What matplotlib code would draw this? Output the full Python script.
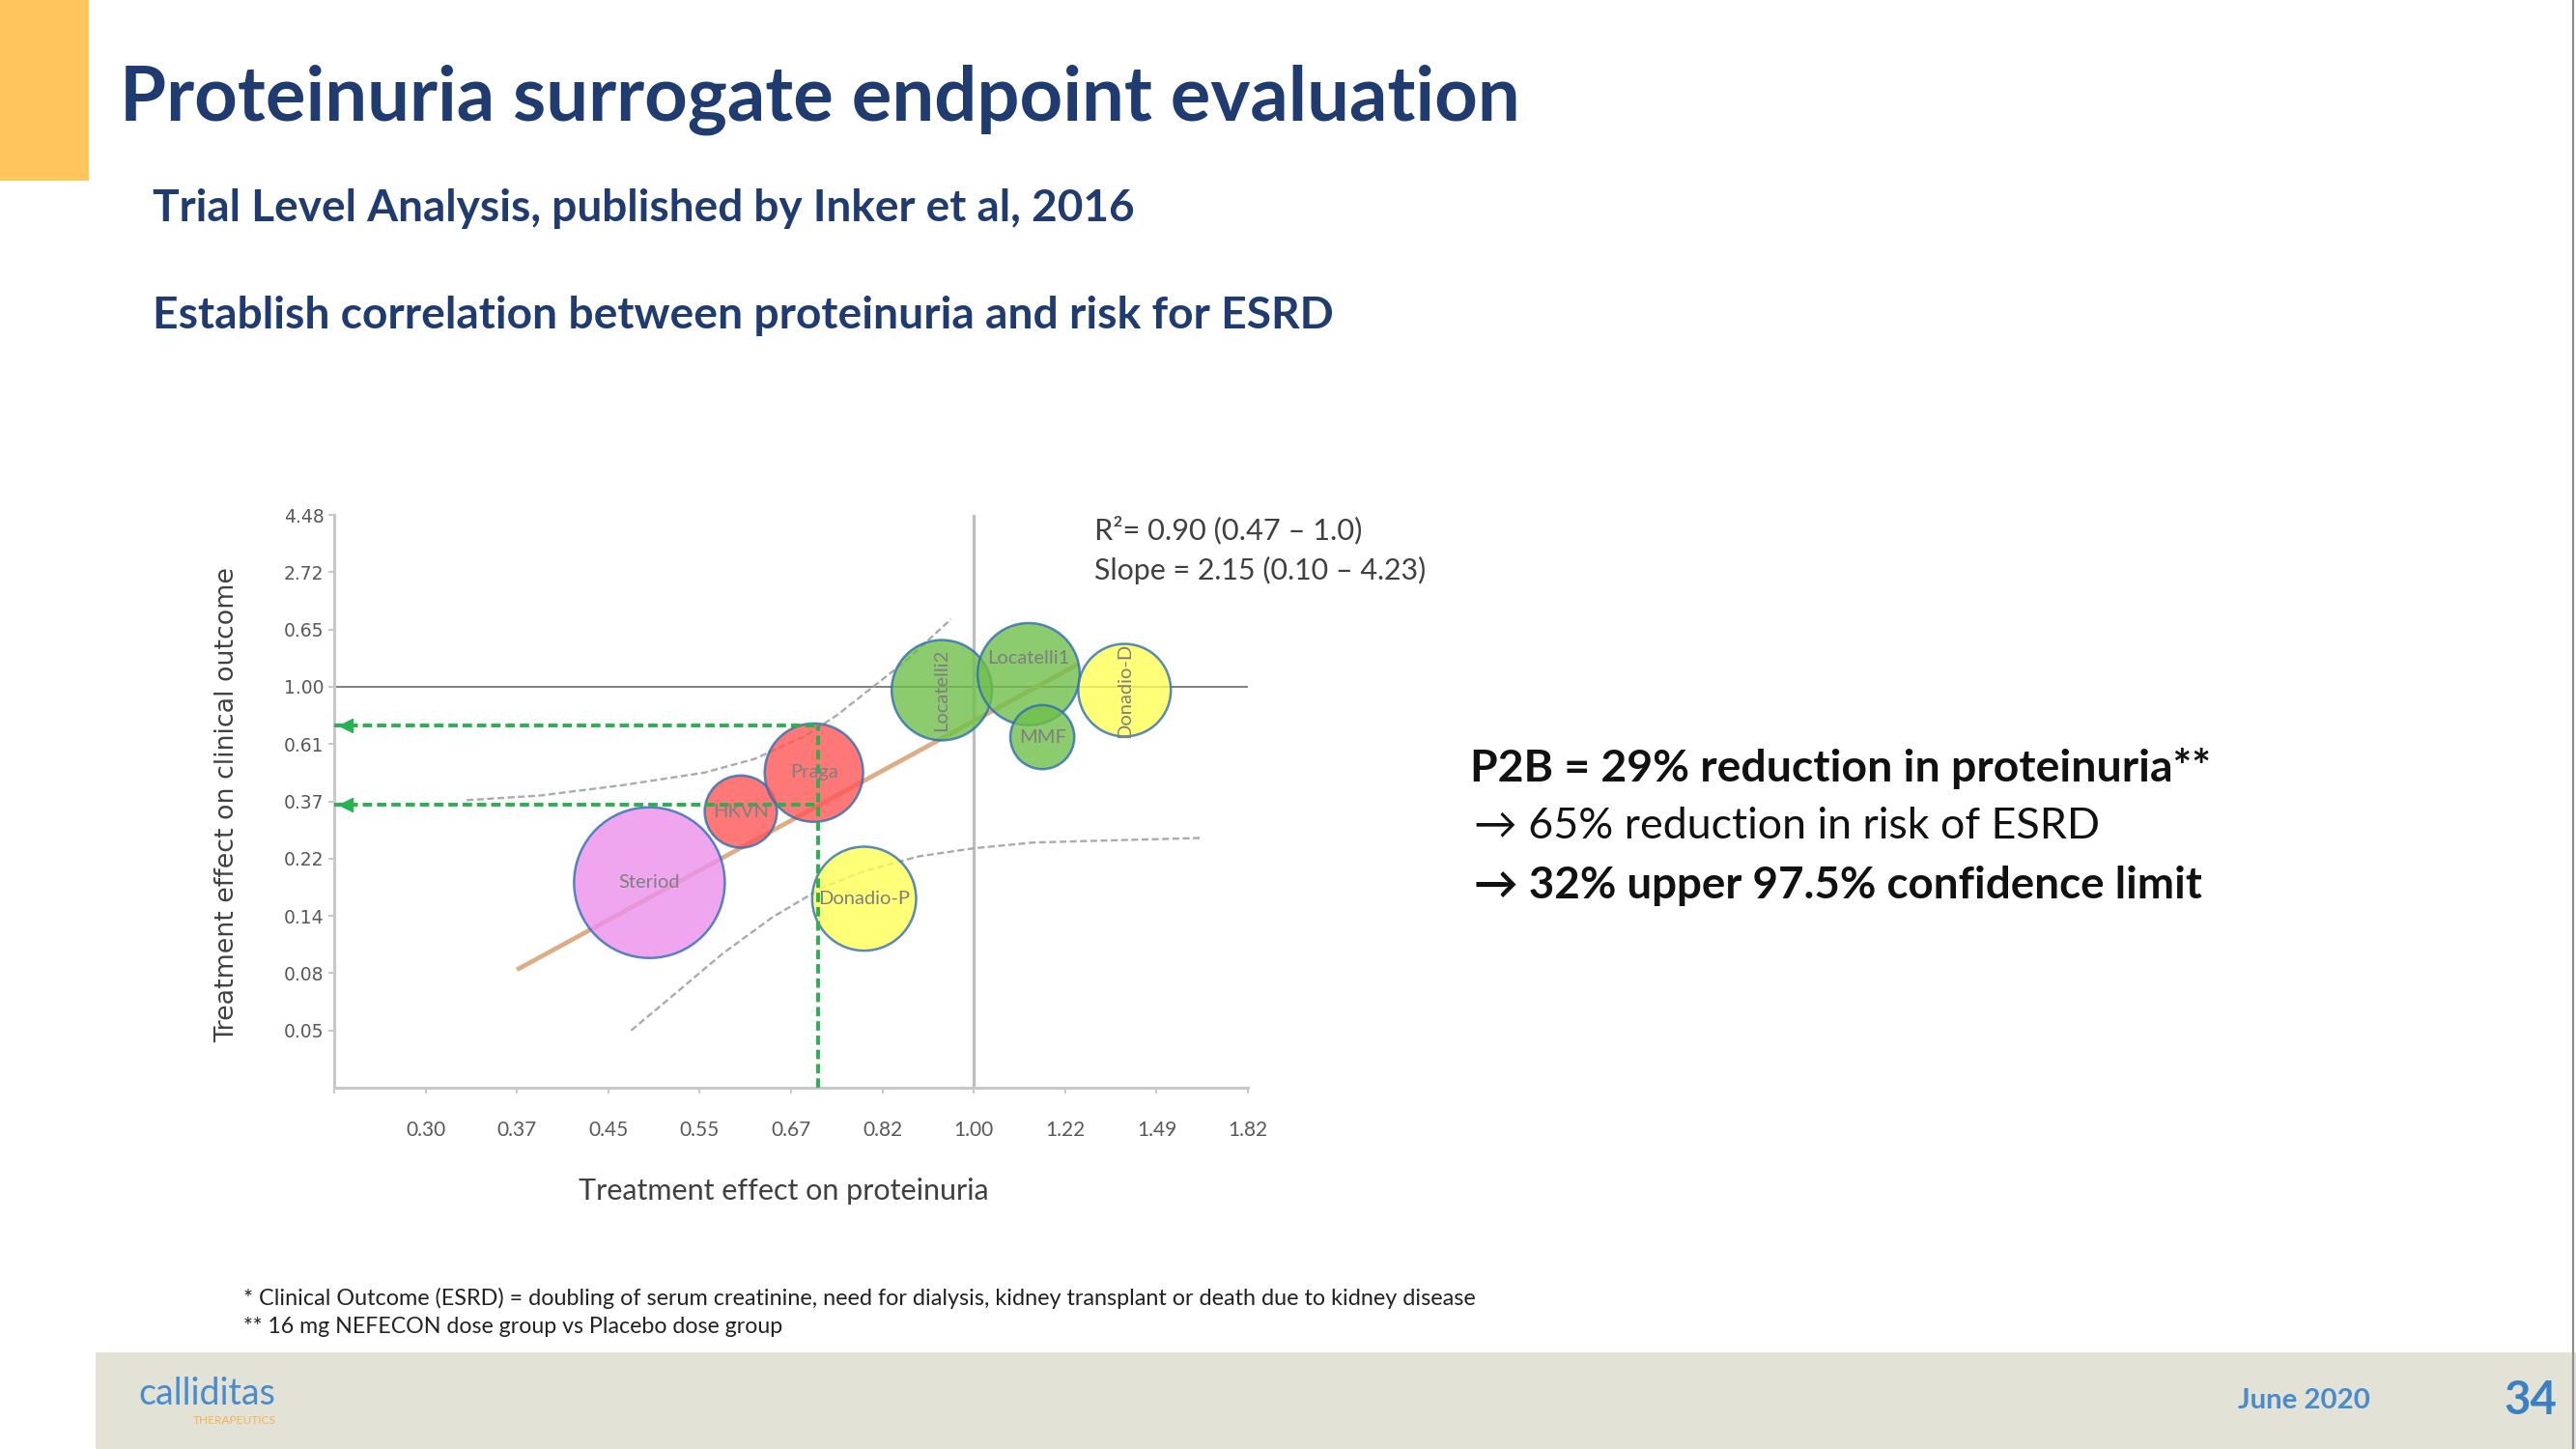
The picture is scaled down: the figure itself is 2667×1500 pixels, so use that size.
import matplotlib

matplotlib.use('Agg')

import matplotlib.pyplot as plt
from matplotlib.patches import Rectangle
import numpy as np

W, H = 2667, 1500

# trials, natural log of treatment effect (proteinuria, clinical outcome)
trials = ["Steriod", "HKVN", "Praga", "Donadio-P", "Locatelli2", "Locatelli1", "MMF", "Donadio-D"]
log_protein = [-0.71, -0.51, -0.35, -0.24, -0.07, 0.12, 0.15, 0.33]
log_outcome = [-1.71, -1.09, -0.75, -1.85, -0.03, 0.11, -0.44, -0.03]
weights = [61, 14, 26, 29, 27, 28, 11, 23]
groups = ["steroid", "acei", "acei", "fish", "other", "other", "other", "fish"]

# meta-regression line and confidence band
fit_x = [-1.00, 0.23]
fit_y = [-2.47, 0.20]
upper_x = [-1.11, -0.95, -0.77, -0.59, -0.48, -0.37, -0.30, -0.23, -0.15, -0.05]
upper_y = [-0.99, -0.95, -0.86, -0.75, -0.63, -0.43, -0.25, -0.03, 0.22, 0.59]
lower_x = [-0.75, -0.66, -0.55, -0.44, -0.33, -0.24, -0.12, 0.00, 0.13, 0.31, 0.50]
lower_y = [-3.00, -2.70, -2.33, -2.01, -1.75, -1.61, -1.48, -1.41, -1.36, -1.34, -1.32]

# P2B result read through the regression
p2b_protein = -0.34
p2b_esrd = -1.03
p2b_upper = -0.34

xtick_labels = ["0.30", "0.37", "0.45", "0.55", "0.67", "0.82", "1.00", "1.22", "1.49", "1.82"]
ytick_labels = ["0.05", "0.08", "0.14", "0.22", "0.37", "0.61", "1.00", "0.65", "2.72", "4.48"]

COLORS = {"steroid": "#EC90EC", "acei": "#FF5656", "fish": "#FFFF56", "other": "#70BF4A"}
NAVY = '#1F3B70'
BLUE = '#4A8CCB'
FONT = ['Lato', 'DejaVu Sans']

fig = plt.figure(figsize=(W / 100, H / 100), dpi=100)
renderer = fig.canvas.get_renderer()


def put(x, y, s, width, ha='left', rot=0, **kw):
    # place text at slide pixel coords and scale it to a given extent
    kw.setdefault('family', FONT)
    t = fig.text(x / W, 1 - y / H, s, ha=ha, va='center', rotation=rot, **kw)
    bb = t.get_window_extent(renderer)
    size = bb.height if rot else bb.width
    t.set_fontsize(t.get_fontsize() * width / size)
    return t


# slide decoration
fig.add_artist(Rectangle((0, 1 - 187 / H), 92 / W, 187 / H, transform=fig.transFigure,
                         color='#FFC65C', lw=0))
fig.add_artist(Rectangle((99 / W, 0), 1, 100 / H, transform=fig.transFigure,
                         color='#E2E2D7', lw=0))
fig.add_artist(plt.Line2D([2664 / W] * 2, [0, 1], transform=fig.transFigure,
                          color='#8C8C8C', lw=1.5))

put(124, 103, "Proteinuria surrogate endpoint evaluation", 1453, color=NAVY, weight='bold')
put(158, 216, "Trial Level Analysis, published by Inker et al, 2016", 1021, color=NAVY, weight='bold')
put(158, 327, "Establish correlation between proteinuria and risk for ESRD", 1225, color=NAVY, weight='bold')

# chart
ax = fig.add_axes([346 / W, 1 - 1126 / H, (1292 - 346) / W, (1126 - 533) / H])
ax.set_xlim(-1.4, 0.6)
ax.set_ylim(-3.5, 1.5)

ax.axhline(0, color='#7F7F7F', lw=1.4, zorder=1)
ax.axvline(0, color='#BFBFBF', lw=2.4, zorder=1)

ax.plot(upper_x, upper_y, color='#ABABAB', lw=1.7, ls=(0, (3, 1.5)), zorder=2)
ax.plot(lower_x, lower_y, color='#ABABAB', lw=1.7, ls=(0, (3, 1.5)), zorder=2)
ax.plot(fit_x, fit_y, color='#DDAE86', lw=3.4, solid_capstyle='butt', zorder=2)

sizes = [207 * w for w in weights]
ax.scatter(log_protein, log_outcome, s=sizes, c=[COLORS[g] for g in groups], alpha=0.8,
           edgecolors='#2F6DB5', linewidths=1.8, zorder=3)

for name, x, y in zip(trials, log_protein, log_outcome):
    rot = 90 if name in ("Locatelli2", "Donadio-D") else 0
    dy = 12 if name == "Locatelli1" else 0
    ax.annotate(name, (x, y), xytext=(0, dy), textcoords='offset points', ha='center',
                va='center', rotation=rot, fontsize=14.5, color='#7F7F7F', family=FONT, zorder=5)

green = '#27B24F'
dash = (0, (2.5, 1.3))
ax.plot([-1.4, p2b_protein], [p2b_upper, p2b_upper], color=green, lw=2.8, ls=dash, zorder=4)
ax.plot([-1.4, p2b_protein], [p2b_esrd, p2b_esrd], color=green, lw=2.8, ls=dash, zorder=4)
ax.plot([p2b_protein, p2b_protein], [-3.5, p2b_upper], color=green, lw=2.8, ls=dash, zorder=4)
ax.plot([-1.375, -1.375], [p2b_upper, p2b_esrd], ls='none', marker='<', ms=10, color=green,
        zorder=4, clip_on=False)

ax.set_xticks(np.round(np.arange(-7, 4) * 0.2, 1))
ax.set_xticklabels([""] + xtick_labels, family=FONT, fontsize=15, color='#595959')
ax.set_yticks(np.arange(-6, 4) * 0.5)
ax.set_yticklabels(ytick_labels, family='DejaVu Sans', fontsize=13.5, color='#595959')
ax.tick_params(axis='x', length=4.5, width=1.2, color='#BFBFBF', pad=20)
ax.tick_params(axis='y', length=4.5, width=1.2, color='#BFBFBF', pad=3)
for side in ('top', 'right'):
    ax.spines[side].set_visible(False)
for side in ('left', 'bottom'):
    ax.spines[side].set_color('#C8C8C8')
    ax.spines[side].set_linewidth(2.2)

put(235, 833, "Treatment effect on clinical outcome", 492, ha='center', rot=90,
    family='DejaVu Sans', color='#404040')
put(811, 1233, "Treatment effect on proteinuria", 427, ha='center', color='#404040')

put(1133, 549, "R²= 0.90 (0.47 – 1.0)", 276, color='#404040')
put(1133, 590, "Slope = 2.15 (0.10 – 4.23)", 344, color='#404040')

put(1522, 796, "P2B = 29% reduction in proteinuria**", 769, color='#111111', weight='bold')
put(1526, 856, "→ 65% reduction in risk of ESRD", 648, color='#111111')
put(1526, 917, "→ 32% upper 97.5% confidence limit", 755, color='#111111', weight='bold')

put(252, 1344, "* Clinical Outcome (ESRD) = doubling of serum creatinine, need for dialysis, "
    "kidney transplant or death due to kidney disease", 1274, color='#222222')
put(252, 1374, "** 16 mg NEFECON dose group vs Placebo dose group", 556, color='#222222')

put(143, 1443, "calliditas", 142, color=BLUE)
put(200, 1471, "THERAPEUTICS", 85, color='#F2B455')
put(2317, 1450, "June 2020", 138, color=BLUE, weight='bold')
put(2592, 1450, "34", 55, color='#3C80C4', weight='bold')

fig.savefig('out.png', dpi=100)
